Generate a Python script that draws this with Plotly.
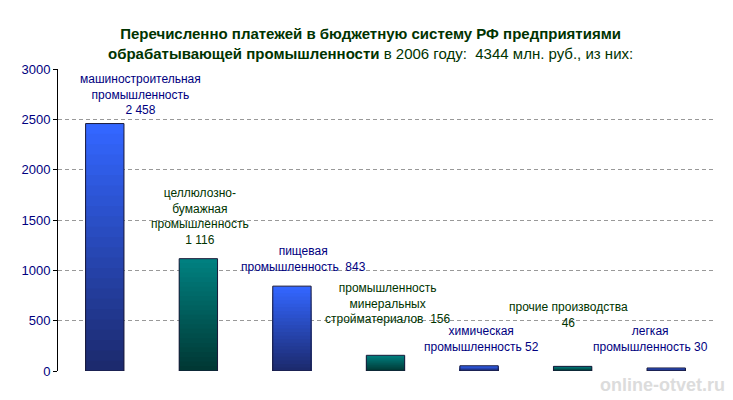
import plotly.graph_objects as go

# Data (млн. руб.)
categories = ["машиностроительная", "целлюлозно-бумажная", "пищевая",
              "минеральных стройматериалов", "химическая", "прочие", "легкая"]
values = [2458, 1116, 843, 156, 52, 46, 30]
labels = [
    "машиностроительная<br>промышленность<br>2 458",
    "целлюлозно-<br>бумажная<br>промышленность<br>1 116",
    "пищевая<br>промышленность  843",
    "промышленность<br>минеральных<br>стройматериалов  156",
    "химическая<br>промышленность 52",
    "прочие производства<br>46",
    "легкая<br>промышленность 30",
]
y_ticks = [0, 500, 1000, 1500, 2000, 2500, 3000]

# styling
blue_top, blue_bot = (51, 102, 255), (28, 42, 110)
teal_top, teal_bot = (0, 128, 128), (0, 56, 52)
label_colors = ["#000080", "#003300", "#000080", "#003300", "#000080", "#003300", "#000080"]
label_dx = [36, 2, 12, 2, 2, -4, -16]
label_dy = [5, 10, 10, 27, 10, 34, 12]


def mix(a, b, t):
    return "rgb({},{},{})".format(*[round(a[i] + (b[i] - a[i]) * t) for i in range(3)])


fig = go.Figure()

# fake vertical gradient: overlaid bars, each shorter one a bit darker
steps = 24
for k in range(steps):
    t = k / (steps - 1)
    cols = [mix(blue_top, blue_bot, t) if i % 2 == 0 else mix(teal_top, teal_bot, t)
            for i in range(len(values))]
    fig.add_trace(go.Bar(
        x=categories, y=[v * (steps - k) / steps for v in values],
        marker=dict(color=cols, line=dict(width=0)),
        width=0.41, hoverinfo="skip", showlegend=False
    ))

# outline
fig.add_trace(go.Bar(
    x=categories, y=values, width=0.41,
    marker=dict(color="rgba(0,0,0,0)", line=dict(color="#1a1a3a", width=1)),
    showlegend=False
))

for cat, v, txt, c, dx, dy in zip(categories, values, labels, label_colors, label_dx, label_dy):
    fig.add_annotation(
        x=cat, y=v, text=txt, showarrow=False, xanchor="center", yanchor="bottom",
        xshift=dx, yshift=dy, font=dict(size=12, color=c)
    )

fig.add_annotation(
    x=0.5, y=1.0, xref="paper", yref="paper", xanchor="center", yanchor="middle",
    xshift=-15, yshift=26, showarrow=False,
    text="<b>Перечисленно платежей в бюджетную систему РФ предприятиями</b><br>"
         "<b>обрабатывающей промышленности</b> в 2006 году:  4344 млн. руб., из них:",
    font=dict(size=15, color="#003300")
)

fig.add_annotation(
    x=1.0, y=0, xref="paper", yref="paper", xanchor="right", yanchor="middle",
    xshift=14, yshift=-14, showarrow=False, text="<b>online-otvet.ru</b>",
    font=dict(size=18, color="#dcdcdc")
)

# page body has an 8px margin, so the figure is a bit smaller than the window
fig.update_layout(
    width=725, height=392,
    barmode="overlay", bargap=0.59,
    margin=dict(l=50, r=20, t=61, b=29),
    plot_bgcolor="white", paper_bgcolor="white",
    font=dict(family="Liberation Sans, Arial, sans-serif"),
)
fig.update_xaxes(showticklabels=False, showgrid=False, showline=False, zeroline=False)
fig.update_yaxes(
    range=[0, 3000], tickvals=y_ticks, ticks="outside", ticklen=4, tickcolor="black",
    showline=True, linecolor="black", linewidth=1,
    gridcolor="#999999", griddash="4px,3px", gridwidth=1,
    zeroline=False, tickfont=dict(size=13, color="#000080")
)

fig.write_html("out.html")
